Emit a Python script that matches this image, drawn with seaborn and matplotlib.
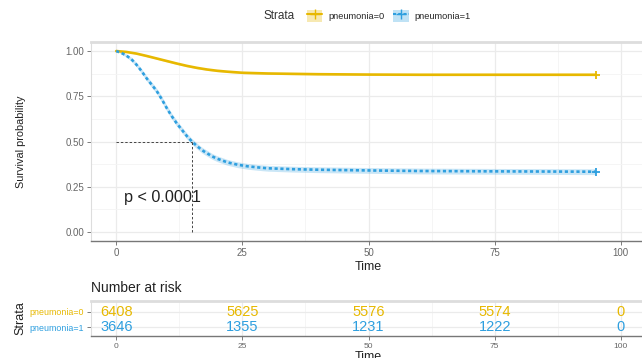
import numpy as np
import pandas as pd
import matplotlib
matplotlib.use("Agg")
import matplotlib.pyplot as plt
import seaborn as sns
from matplotlib.lines import Line2D
from matplotlib.patches import Patch

sns.set_style("whitegrid")
plt.rcParams['font.family'] = ['Liberation Sans', 'DejaVu Sans']

# survival curves
time0 = [0, 2, 4, 6, 8, 10, 12, 14, 16, 18, 20, 22, 25, 30, 40, 50, 60, 75, 95]
surv0 = [1.0, 0.995, 0.986, 0.973, 0.959, 0.945, 0.931, 0.918, 0.907, 0.898, 0.891,
         0.886, 0.880, 0.876, 0.872, 0.870, 0.869, 0.869, 0.869]
ci0 = [0.0, 0.002, 0.003, 0.004, 0.004, 0.005, 0.005, 0.005, 0.005, 0.005, 0.005,
       0.005, 0.005, 0.005, 0.005, 0.005, 0.005, 0.005, 0.005]

time1 = [0, 1, 2, 3, 4, 5, 6, 7, 8, 9, 10, 11, 12, 13, 14, 15, 16, 17, 18, 19, 20,
         22, 24, 26, 28, 30, 35, 40, 50, 60, 75, 95]
surv1 = [1.0, 0.99, 0.975, 0.955, 0.925, 0.89, 0.85, 0.815, 0.78, 0.735, 0.685,
         0.64, 0.60, 0.565, 0.53, 0.50, 0.475, 0.452, 0.435, 0.418, 0.405,
         0.385, 0.372, 0.363, 0.357, 0.352, 0.347, 0.344, 0.340, 0.337, 0.335, 0.333]
ci1 = [0.0, 0.006, 0.009, 0.011, 0.012, 0.013, 0.014, 0.015, 0.015, 0.016, 0.016,
       0.016, 0.016, 0.016, 0.016, 0.016, 0.016, 0.016, 0.016, 0.016, 0.016,
       0.016, 0.016, 0.016, 0.016, 0.016, 0.016, 0.016, 0.016, 0.016, 0.016, 0.016]

strata = ['pneumonia=0', 'pneumonia=1']
colors = {'pneumonia=0': '#E7B800', 'pneumonia=1': '#2E9FDF'}
median_time = 15
pval_text = "p < 0.0001"

# number at risk
risk_times = [0, 25, 50, 75, 100]
risk0 = [6408, 5625, 5576, 5574, 0]
risk1 = [3646, 1355, 1231, 1222, 0]

df = pd.concat([
    pd.DataFrame({'time': time0, 'surv': surv0, 'ci': ci0, 'strata': strata[0]}),
    pd.DataFrame({'time': time1, 'surv': surv1, 'ci': ci1, 'strata': strata[1]}),
])

fig = plt.figure(figsize=(6.42, 3.58), dpi=100)
ax = fig.add_axes([91/642, 1-241/358, 555/642, 199/358])

grid_c = '#ebebeb'
for s in strata:
    d = df[df.strata == s]
    ax.fill_between(d.time, d.surv - d.ci, d.surv + d.ci, color=colors[s],
                    alpha=0.25, lw=0)
sns.lineplot(data=df, x='time', y='surv', hue='strata', style='strata',
             palette=colors, dashes={strata[0]: '', strata[1]: (1.2, 1.0)},
             linewidth=1.9, ax=ax, legend=False)
# censor marks at end
for s in strata:
    d = df[df.strata == s]
    ax.plot(d.time.iloc[-1], d.surv.iloc[-1], marker='+', ms=6, mew=1.3,
            color=colors[s])

# median lines
ax.plot([0, median_time], [0.5, 0.5], ls=(0, (2.5, 2)), color='#444444', lw=0.7)
ax.plot([median_time, median_time], [0, 0.5], ls=(0, (2.5, 2)), color='#444444', lw=0.7)
ax.text(1.6, 0.19, pval_text, fontsize=11.7, va='center', ha='left', color='#222222')

ax.set_xlim(-5, 105)
ax.set_ylim(-0.05, 1.05)
ax.set_xticks(risk_times)
ax.set_yticks([0, 0.25, 0.5, 0.75, 1.0])
ax.set_yticklabels(['0.00', '0.25', '0.50', '0.75', '1.00'])
ax.set_xticks([12.5, 37.5, 62.5, 87.5], minor=True)
ax.set_yticks([0.125, 0.375, 0.625, 0.875], minor=True)
ax.grid(which='major', color=grid_c, lw=0.9)
ax.grid(which='minor', color='#f4f4f4', lw=0.6)
ax.tick_params(axis='both', which='major', labelsize=7, colors='#666666',
               length=3, width=0.6, pad=2, left=True, bottom=True)
ax.tick_params(axis='both', which='minor', length=0)
ax.set_xlabel('Time', fontsize=9, labelpad=2, color='#222222')
ax.set_ylabel('Survival probability', fontsize=7.8, labelpad=28, color='#222222')
ax.spines['top'].set_color('#dddddd')
ax.spines['top'].set_linewidth(2)
ax.spines['left'].set_color('#dddddd')
ax.spines['right'].set_visible(False)
ax.spines['bottom'].set_color('#777777')
ax.spines['bottom'].set_linewidth(1.0)

# legend
fig.text(263/642, 1-16/358, 'Strata', fontsize=8.5, va='center', ha='left', color='#333333')
handles = [(Patch(facecolor=colors[strata[0]], alpha=0.3, lw=0),
            Line2D([], [], color=colors[strata[0]], marker='+', lw=1.5, ms=7)),
           (Patch(facecolor=colors[strata[1]], alpha=0.3, lw=0),
            Line2D([], [], color=colors[strata[1]], marker='+', lw=1.5, ms=7,
                   ls=(0, (1.5, 1))))]
fig.legend(handles, strata, loc='center left', bbox_to_anchor=(302/642, 1-16/358),
           ncol=2, frameon=False, fontsize=6.7, handlelength=1.7, handleheight=1.7,
           handletextpad=0.6, columnspacing=0.9, borderpad=0)

# risk table
ax2 = fig.add_axes([91/642, 1-336/358, 555/642, 35/358])
for t, n0, n1 in zip(risk_times, risk0, risk1):
    ax2.text(t, 1, str(n0), color=colors[strata[0]], fontsize=10.5, ha='center', va='center')
    ax2.text(t, 0, str(n1), color=colors[strata[1]], fontsize=10.5, ha='center', va='center')
ax2.set_xlim(-5, 105)
ax2.set_ylim(-0.55, 1.7)
ax2.set_xticks(risk_times)
ax2.set_xticks([12.5, 37.5, 62.5, 87.5], minor=True)
ax2.set_yticks([0, 1])
ax2.set_yticklabels([strata[1], strata[0]])
ax2.grid(which='major', color=grid_c, lw=0.9)
ax2.grid(which='minor', axis='x', color='#f4f4f4', lw=0.6)
ax2.tick_params(axis='both', which='major', labelsize=6.4, colors='#666666',
                length=3, width=0.6, pad=2, left=True, bottom=True)
ax2.tick_params(axis='x', labelsize=6)
for lab, s in zip(ax2.get_yticklabels(), [strata[1], strata[0]]):
    lab.set_color(colors[s])
ax2.tick_params(axis='both', which='minor', length=0)
ax2.set_xlabel('Time', fontsize=9, labelpad=1, color='#222222')
ax2.set_ylabel('Strata', fontsize=9, labelpad=2, color='#222222')
ax2.spines['top'].set_color('#dddddd')
ax2.spines['top'].set_linewidth(2)
ax2.spines['left'].set_color('#dddddd')
ax2.spines['right'].set_visible(False)
ax2.spines['bottom'].set_color('#777777')
ax2.spines['bottom'].set_linewidth(1.0)
fig.text(91/642, 1-288/358, 'Number at risk', fontsize=10, va='center', ha='left',
         color='#222222')

fig.savefig('out.png', dpi=100)
